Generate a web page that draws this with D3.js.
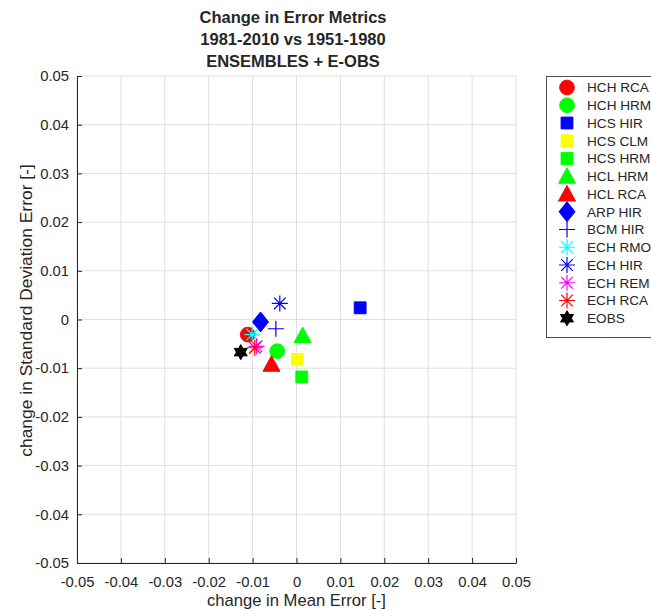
<!DOCTYPE html>
<html>
<head>
<meta charset="utf-8">
<script src="https://cdn.jsdelivr.net/npm/d3@7"></script>
<style>
  body { margin: 0; background: #fff; }
  text { font-family: "Liberation Sans", Arial, sans-serif; fill: #262626; }
</style>
</head>
<body>
<div id="chart"></div>
<script>
(function () {
  // data
  let models = ['HCH RCA', 'HCH HRM', 'HCS HIR', 'HCS CLM', 'HCS HRM', 'HCL HRM', 'HCL RCA',
    'ARP HIR', 'BCM HIR', 'ECH RMO', 'ECH HIR', 'ECH REM', 'ECH RCA', 'EOBS'];
  let meanErr = [-0.0111, -0.0044, 0.0145, 0.0002, 0.0012, 0.0014, -0.0057,
    -0.0082, -0.0047, -0.0101, -0.0038, -0.0091, -0.0095, -0.0127];
  let sdErr = [-0.0031, -0.0065, 0.0024, -0.0082, -0.0118, -0.0033, -0.0092,
    -0.0005, -0.0019, -0.0031, 0.0033, -0.0055, -0.0058, -0.0067];
  let xTicks = [-0.05, -0.04, -0.03, -0.02, -0.01, 0, 0.01, 0.02, 0.03, 0.04, 0.05];
  let yTicks = [-0.05, -0.04, -0.03, -0.02, -0.01, 0, 0.01, 0.02, 0.03, 0.04, 0.05];
  let titleLines = ['Change in Error Metrics', '1981-2010 vs 1951-1980', 'ENSEMBLES + E-OBS'];

  // marker style per model
  let markers = ['circle', 'circle', 'square', 'square', 'square', 'triangle', 'triangle',
    'diamond', 'plus', 'asterisk', 'asterisk', 'asterisk', 'asterisk', 'hexagram'];
  let colors = ['#ff0000', '#00ff00', '#0000ff', '#ffff00', '#00ff00', '#00ff00', '#ff0000',
    '#0000ff', '#0000ff', '#00ffff', '#0000ff', '#ff00ff', '#ff0000', '#000000'];

  let width = 651,
    height = 611;
  let left = 77, right = 516, top = 76, bottom = 563;

  let svg = d3.select('#chart').append('svg')
    .attr('width', width)
    .attr('height', height);

  let xScale = d3.scaleLinear().domain([-0.05, 0.05]).range([left, right]);
  let yScale = d3.scaleLinear().domain([-0.05, 0.05]).range([bottom, top]);

  let fmt = (d) => d === 0 ? '0' : d3.format('.2f')(d).replace('−', '-');

  // grid
  svg.append('g').selectAll('line.gx')
    .data(xTicks).enter()
    .append('line')
    .attr('x1', (d) => xScale(d)).attr('x2', (d) => xScale(d))
    .attr('y1', top).attr('y2', bottom)
    .attr('stroke', '#dfdfdf').attr('stroke-width', 1);
  svg.append('g').selectAll('line.gy')
    .data(yTicks).enter()
    .append('line')
    .attr('y1', (d) => yScale(d)).attr('y2', (d) => yScale(d))
    .attr('x1', left).attr('x2', right)
    .attr('stroke', '#dfdfdf').attr('stroke-width', 1);

  // axes
  let xAxis = d3.axisBottom(xScale).tickValues(xTicks).tickFormat(fmt)
    .tickSizeInner(-5).tickSizeOuter(0).tickPadding(13);
  let yAxis = d3.axisLeft(yScale).tickValues(yTicks).tickFormat(fmt)
    .tickSizeInner(-5).tickSizeOuter(0).tickPadding(8);

  let gx = svg.append('g').attr('transform', 'translate(0,' + bottom + ')').call(xAxis);
  let gy = svg.append('g').attr('transform', 'translate(' + left + ',0)').call(yAxis);
  [gx, gy].forEach((g) => {
    g.selectAll('path.domain').attr('stroke', '#262626');
    g.selectAll('.tick line').attr('stroke', '#262626');
    g.selectAll('.tick text')
      .style('font-family', '"Liberation Sans", Arial, sans-serif')
      .style('font-size', '14.8px')
      .attr('fill', '#262626');
  });

  // marker shapes
  function shapePath(type) {
    if (type === 'circle') return d3.symbol(d3.symbolCircle, 170)();
    if (type === 'square') return d3.symbol(d3.symbolSquare, 140)();
    if (type === 'diamond') return 'M0,-10L8,0L0,10L-8,0Z';
    if (type === 'triangle') return 'M0,-8.5L8.5,7L-8.5,7Z';
    if (type === 'plus') return 'M-8,0H8M0,-8V8';
    if (type === 'asterisk') return 'M-8,0H8M0,-8V8M-5.8,-5.8L5.8,5.8M-5.8,5.8L5.8,-5.8';
    if (type === 'hexagram') {
      let pts = [];
      for (let k = 0; k < 12; k++) {
        let r = k % 2 === 0 ? 7.5 : 4.3;
        let a = -Math.PI / 2 + k * Math.PI / 6;
        pts.push([r * Math.cos(a), r * Math.sin(a)]);
      }
      return 'M' + pts.map((p) => p[0].toFixed(2) + ',' + p[1].toFixed(2)).join('L') + 'Z';
    }
  }
  let isLine = (t) => t === 'plus' || t === 'asterisk';

  function drawMarker(sel) {
    sel.append('path')
      .attr('d', (i) => shapePath(markers[i]))
      .attr('fill', (i) => isLine(markers[i]) ? 'none' : colors[i])
      .attr('stroke', (i) => colors[i])
      .attr('stroke-width', (i) => isLine(markers[i]) ? 1.2 : 1);
  }

  let idx = d3.range(models.length);

  svg.append('g').selectAll('g.pt')
    .data(idx).enter()
    .append('g')
    .attr('class', 'pt')
    .attr('transform', (i) => 'translate(' + xScale(meanErr[i]) + ',' + yScale(sdErr[i]) + ')')
    .call(drawMarker);

  // axis labels
  svg.append('text')
    .attr('x', (left + right) / 2)
    .attr('y', 606)
    .attr('text-anchor', 'middle')
    .style('font-size', '16.6px')
    .text('change in Mean Error [-]');

  svg.append('text')
    .attr('transform', 'translate(32,' + ((top + bottom) / 2 - 9) + ') rotate(-90) scale(1.05,1)')
    .attr('text-anchor', 'middle')
    .style('font-size', '16.6px')
    .text('change in Standard Deviation Error [-]');

  // title
  svg.append('g').selectAll('text.title')
    .data(titleLines).enter()
    .append('text')
    .attr('x', 293)
    .attr('y', (d, i) => 23 + i * 22)
    .attr('text-anchor', 'middle')
    .style('font-size', '16.5px')
    .style('font-weight', 'bold')
    .attr('fill', '#000')
    .text((d) => d);

  // legend
  let legY = 87.5, legStep = 17.75;
  svg.append('rect')
    .attr('x', 546.5).attr('y', 76.5)
    .attr('width', 120).attr('height', 261)
    .attr('fill', '#fff')
    .attr('stroke', '#262626')
    .attr('stroke-width', 0.8);

  let leg = svg.append('g').selectAll('g.leg')
    .data(idx).enter()
    .append('g')
    .attr('class', 'leg')
    .attr('transform', (i) => 'translate(0,' + (legY + i * legStep) + ')');

  leg.append('g')
    .attr('transform', 'translate(567,0)')
    .each(function (i) { drawMarker(d3.select(this).datum(i)); });

  leg.append('text')
    .attr('x', 587)
    .attr('y', 0)
    .attr('dy', '0.35em')
    .style('font-size', '13.6px')
    .attr('fill', '#000')
    .text((i) => models[i]);
})();
</script>
</body>
</html>
